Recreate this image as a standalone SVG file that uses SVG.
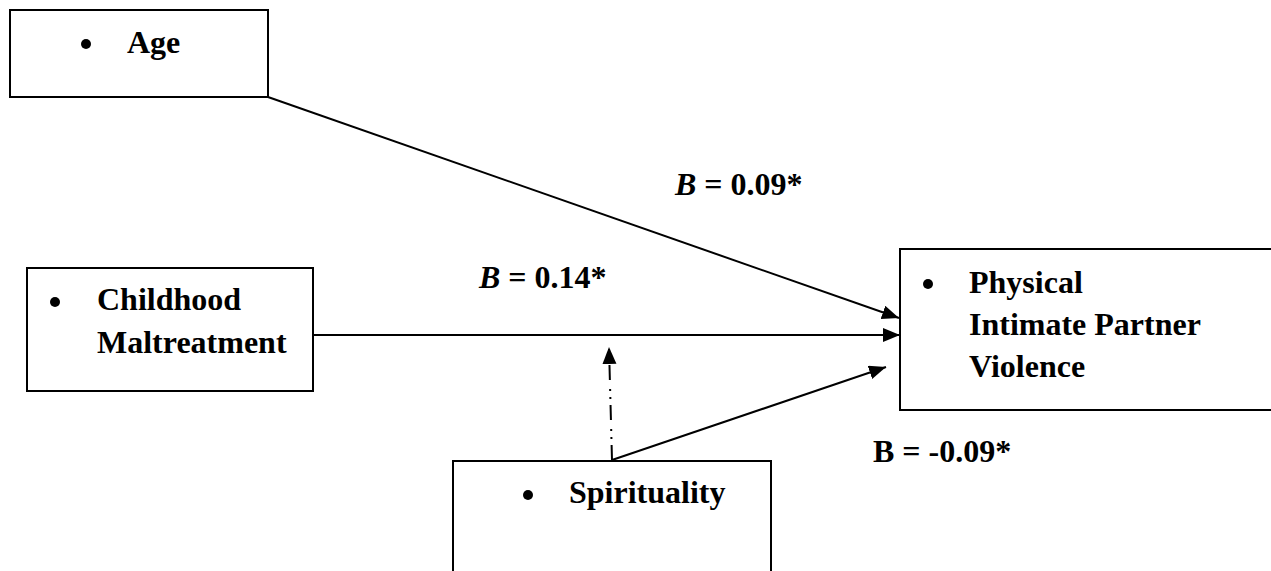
<svg xmlns="http://www.w3.org/2000/svg" width="1271" height="571" viewBox="0 0 1271 571">
<style>
.box{fill:#fff;stroke:#000;stroke-width:2}
.t{font-family:"Liberation Serif","Times New Roman",serif;font-weight:bold;font-size:32px;fill:#000}
.i{font-style:italic}
.ln{stroke:#000;stroke-width:2;fill:none}
.dd{stroke-dasharray:15 6 2 6 2 9}
</style>
<defs>
<marker id="ah" markerUnits="userSpaceOnUse" markerWidth="18" markerHeight="15" refX="17" refY="7" orient="auto">
<path d="M0,0 L17,7 L0,14 z" fill="#000"/>
</marker>
</defs>
<rect width="1271" height="571" fill="#fff"/>
<g id="connectors">
<line class="ln" x1="268" y1="97" x2="899" y2="318" marker-end="url(#ah)"/>
<line class="ln" x1="313" y1="335" x2="900" y2="335" marker-end="url(#ah)"/>
<line class="ln" x1="612" y1="460" x2="886" y2="367" marker-end="url(#ah)"/>
<line class="ln dd" x1="612" y1="460" x2="609" y2="347" marker-end="url(#ah)"/>
</g>
<g id="age">
<rect class="box" x="10" y="10" width="258" height="87"/>
<circle cx="86" cy="44" r="5"/>
<text class="t" x="127" y="53">Age</text>
</g>
<g id="childhood">
<rect class="box" x="27" y="268" width="286" height="123"/>
<circle cx="55" cy="302" r="5"/>
<text class="t" x="97" y="310">Childhood</text>
<text class="t" x="97" y="353">Maltreatment</text>
</g>
<g id="ipv">
<rect class="box" x="900" y="249" width="380" height="161"/>
<circle cx="928" cy="284" r="5"/>
<text class="t" x="969" y="293">Physical</text>
<text class="t" x="969" y="335">Intimate Partner</text>
<text class="t" x="969" y="377">Violence</text>
</g>
<g id="spirituality">
<rect class="box" x="453" y="461" width="318" height="130"/>
<circle cx="528" cy="495" r="5"/>
<text class="t" x="569" y="503">Spirituality</text>
</g>
<g id="labels">
<text class="t" x="675" y="195"><tspan class="i">B</tspan> = 0.09*</text>
<text class="t" x="479" y="288"><tspan class="i">B</tspan> = 0.14*</text>
<text class="t" x="873" y="462">B = -0.09*</text>
</g>
</svg>
